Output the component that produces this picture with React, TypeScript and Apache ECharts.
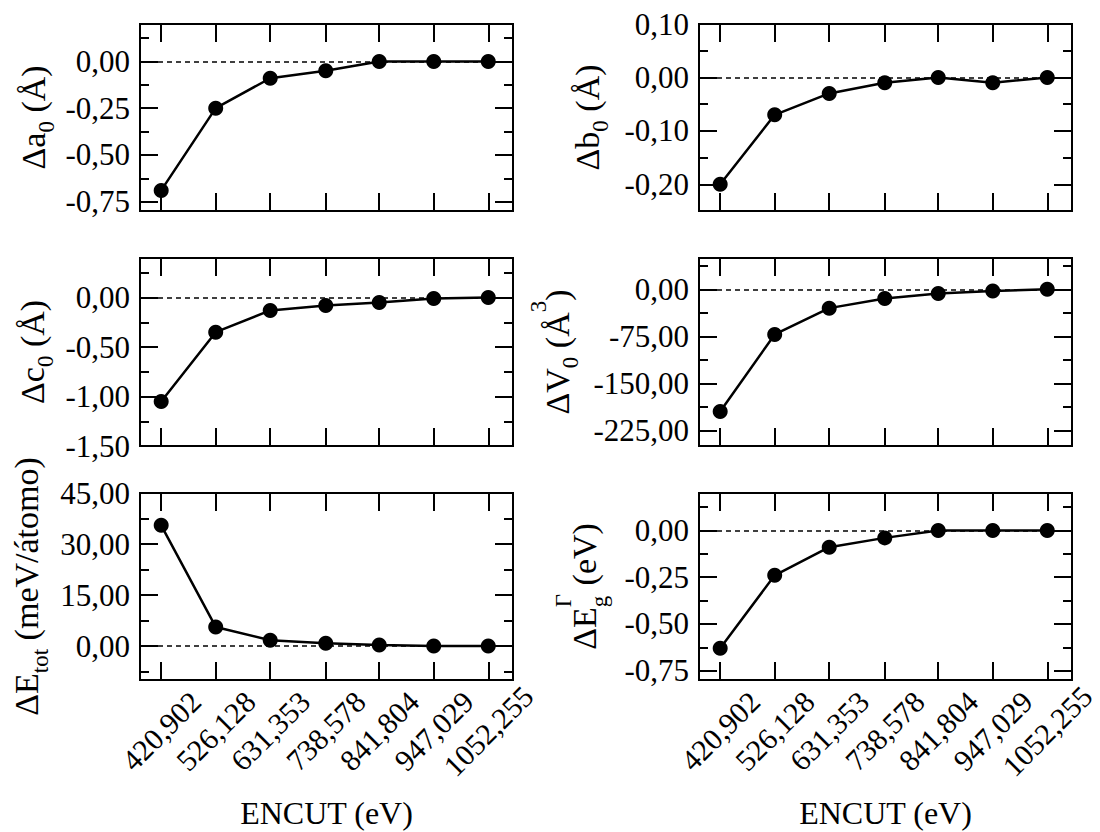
import React, { useEffect, useRef } from "react";
import * as echarts from "echarts";

// ---------- data ----------
const encut = [420.902, 526.128, 631.353, 738.578, 841.804, 947.029, 1052.255];
const da0 = [-0.69, -0.25, -0.09, -0.05, 0, 0, 0];
const db0 = [-0.2, -0.07, -0.03, -0.01, 0, -0.01, 0];
const dc0 = [-1.05, -0.35, -0.13, -0.08, -0.05, -0.01, 0];
const dV0 = [-195, -72, -30, -14.5, -6.5, -2.5, 0];
const dEtot = [35.5, 5.6, 1.7, 0.8, 0.3, 0, 0];
const dEg = [-0.63, -0.24, -0.09, -0.04, 0, 0, 0];

const ticksA = [0, -0.25, -0.5, -0.75];
const minorA = [0.125, -0.125, -0.375, -0.625];
const ticksB = [0.1, 0, -0.1, -0.2];
const minorB = [0.05, -0.05, -0.15, -0.25];
const ticksC = [0, -0.5, -1.0, -1.5];
const minorC = [0.25, -0.25, -0.75, -1.25];
const ticksV = [0, -75, -150, -225];
const minorV = [37.5, -37.5, -112.5, -187.5];
const ticksE = [45, 30, 15, 0];
const minorE = [37.5, 22.5, 7.5, -7.5];
const ticksG = [0, -0.25, -0.5, -0.75];
const minorG = [0.125, -0.125, -0.375, -0.625];

const xLabel = "ENCUT (eV)";

// ---------- layout ----------
const FONT = "Liberation Serif, serif";
const X_MIN = 380;
const X_MAX = 1100;
const GW = 373;
const LEFTS = [140, 699];
const TOPS = [24, 258, 493];
const HEIGHTS = [187, 188, 187];
const TS = 34; // title size
const SS = 23; // sub/sup size

type Part = { t: string; size: number; dy: number; hold?: boolean };

const panels = [
  { vals: da0, ticks: ticksA, minor: minorA, min: -0.8, max: 0.2, col: 0, row: 0,
    title: [{ t: "Δa", size: TS, dy: 0 }, { t: "0", size: SS, dy: 13 }, { t: " (Å)", size: TS, dy: 0 }] as Part[],
    tx: 33 },
  { vals: db0, ticks: ticksB, minor: minorB, min: -0.25, max: 0.1, col: 1, row: 0,
    title: [{ t: "Δb", size: TS, dy: 0 }, { t: "0", size: SS, dy: 13 }, { t: " (Å)", size: TS, dy: 0 }] as Part[],
    tx: 587 },
  { vals: dc0, ticks: ticksC, minor: minorC, min: -1.5, max: 0.4, col: 0, row: 1,
    title: [{ t: "Δc", size: TS, dy: 0 }, { t: "0", size: SS, dy: 13 }, { t: " (Å)", size: TS, dy: 0 }] as Part[],
    tx: 32 },
  { vals: dV0, ticks: ticksV, minor: minorV, min: -250, max: 50, col: 1, row: 1,
    title: [{ t: "ΔV", size: TS, dy: 0 }, { t: "0", size: SS, dy: 13 }, { t: " (Å", size: TS, dy: 0 }, { t: "3", size: SS, dy: -19 }, { t: ")", size: TS, dy: 0 }] as Part[],
    tx: 557 },
  { vals: dEtot, ticks: ticksE, minor: minorE, min: -10, max: 45, col: 0, row: 2,
    title: [{ t: "ΔE", size: TS, dy: 0 }, { t: "tot", size: SS, dy: 14 }, { t: " (meV/átomo)", size: TS, dy: 0 }] as Part[],
    tx: 26 },
  { vals: dEg, ticks: ticksG, minor: minorG, min: -0.8, max: 0.2, col: 1, row: 2,
    title: [{ t: "ΔE", size: TS, dy: 0 }, { t: "Γ", size: SS, dy: -21, hold: true }, { t: "g", size: SS, dy: 15 }, { t: " (eV)", size: TS, dy: 0 }] as Part[],
    tx: 584 },
];

let measureCtx: CanvasRenderingContext2D | null = null;
function measure(text: string, size: number): number {
  if (!measureCtx) {
    const c = document.createElement("canvas");
    measureCtx = c.getContext("2d");
  }
  if (!measureCtx) return text.length * size * 0.5;
  measureCtx.font = `${size}px Liberation Serif`;
  return measureCtx.measureText(text).width;
}

function titleGroup(parts: Part[], cx: number, cy: number) {
  const items: { t: string; size: number; dy: number; x: number }[] = [];
  let x = 0;
  let held = 0;
  for (const p of parts) {
    const w = measure(p.t, p.size);
    items.push({ t: p.t, size: p.size, dy: p.dy, x });
    if (p.hold) {
      held = w;
    } else {
      x += Math.max(w, held);
      held = 0;
    }
  }
  const W = x;
  return {
    type: "group",
    x: cx,
    y: cy,
    rotation: Math.PI / 2,
    children: items.map((it) => ({
      type: "text",
      x: it.x - W / 2,
      y: it.dy,
      style: {
        text: it.t,
        fontFamily: FONT,
        fontSize: it.size,
        fill: "#000",
        align: "left",
        verticalAlign: "middle",
        textAlign: "left",
        textVerticalAlign: "middle",
      },
    })),
  };
}

const fmt2 = (v: number) => v.toFixed(2).replace(".", ",").replace("-0,00", "0,00");
const fmt3 = (v: number) => v.toFixed(3).replace(".", ",");

function buildOption() {
  const grid: any[] = [];
  const xAxis: any[] = [];
  const yAxis: any[] = [];
  const series: any[] = [];
  const graphic: any[] = [];

  panels.forEach((p, i) => {
    const gl = LEFTS[p.col];
    const gt = TOPS[p.row];
    const gh = HEIGHTS[p.row];
    grid.push({
      left: gl,
      top: gt,
      width: GW,
      height: gh,
      show: true,
      borderColor: "#000",
      borderWidth: 2,
      backgroundColor: "transparent",
      containLabel: false,
    });
    const isBottom = p.row === 2;
    const tickStyle = { color: "#000", width: 2 };
    const baseX = {
      gridIndex: i,
      type: "value",
      min: X_MIN,
      max: X_MAX,
      axisLine: { show: false, onZero: false },
      splitLine: { show: false },
    };
    const xb = xAxis.length;
    xAxis.push({
      ...baseX,
      position: "bottom",
      axisTick: { show: true, inside: true, length: 18, customValues: encut, lineStyle: tickStyle },
      axisLabel: {
        show: isBottom,
        customValues: encut,
        rotate: 45,
        align: "center",
        verticalAlign: "middle",
        margin: 51,
        formatter: (v: number) => fmt3(v),
        fontFamily: FONT,
        fontSize: 30,
        color: "#000",
      },
    });
    xAxis.push({
      ...baseX,
      position: "top",
      axisTick: { show: true, inside: true, length: 18, customValues: encut, lineStyle: tickStyle },
      axisLabel: { show: false },
    });
    const baseY = {
      gridIndex: i,
      type: "value",
      min: p.min,
      max: p.max,
      axisLine: { show: false, onZero: false },
      splitLine: { show: false },
    };
    const yl = yAxis.length;
    yAxis.push({
      ...baseY,
      position: "left",
      axisTick: { show: true, inside: true, length: 18, customValues: p.ticks, lineStyle: tickStyle },
      axisLabel: {
        show: true,
        customValues: p.ticks,
        formatter: (v: number) => fmt2(v),
        fontFamily: FONT,
        fontSize: 31,
        color: "#000",
        margin: 10,
      },
    });
    yAxis.push({
      ...baseY,
      position: "right",
      axisTick: { show: true, inside: true, length: 18, customValues: p.ticks, lineStyle: tickStyle },
      axisLabel: { show: false },
    });
    yAxis.push({
      ...baseY,
      position: "left",
      axisTick: { show: true, inside: true, length: 9, customValues: p.minor, lineStyle: tickStyle },
      axisLabel: { show: false },
    });
    yAxis.push({
      ...baseY,
      position: "right",
      axisTick: { show: true, inside: true, length: 9, customValues: p.minor, lineStyle: tickStyle },
      axisLabel: { show: false },
    });

    series.push({
      type: "line",
      xAxisIndex: xb,
      yAxisIndex: yl,
      data: encut.map((x, j) => [x, p.vals[j]]),
      symbol: "circle",
      symbolSize: 15,
      itemStyle: { color: "#000" },
      lineStyle: { color: "#000", width: 2.5 },
      z: 3,
      markLine: {
        silent: true,
        symbol: ["none", "none"],
        label: { show: false },
        lineStyle: { type: [5, 4], color: "#000", width: 1.5 },
        data: [{ yAxis: 0 }],
        z: 1,
      },
    });

    graphic.push(titleGroup(p.title, p.tx, gt + gh / 2));
  });

  [0, 1].forEach((c) => {
    graphic.push({
      type: "text",
      x: LEFTS[c] + GW / 2,
      y: 813,
      style: {
        text: xLabel,
        fontFamily: FONT,
        fontSize: 32,
        fill: "#000",
        align: "center",
        verticalAlign: "middle",
        textAlign: "center",
        textVerticalAlign: "middle",
      },
    });
  });

  return {
    animation: false,
    backgroundColor: "#fff",
    grid,
    xAxis,
    yAxis,
    series,
    graphic,
  };
}

export default function App() {
  const ref = useRef<HTMLDivElement>(null);
  useEffect(() => {
    if (!ref.current) return;
    const chart = echarts.init(ref.current, undefined, { renderer: "svg" });
    chart.setOption(buildOption() as any);
    return () => chart.dispose();
  }, []);
  return (
    <div
      ref={ref}
      style={{ position: "absolute", left: 0, top: 0, width: 1100, height: 832, background: "#fff" }}
    />
  );
}
